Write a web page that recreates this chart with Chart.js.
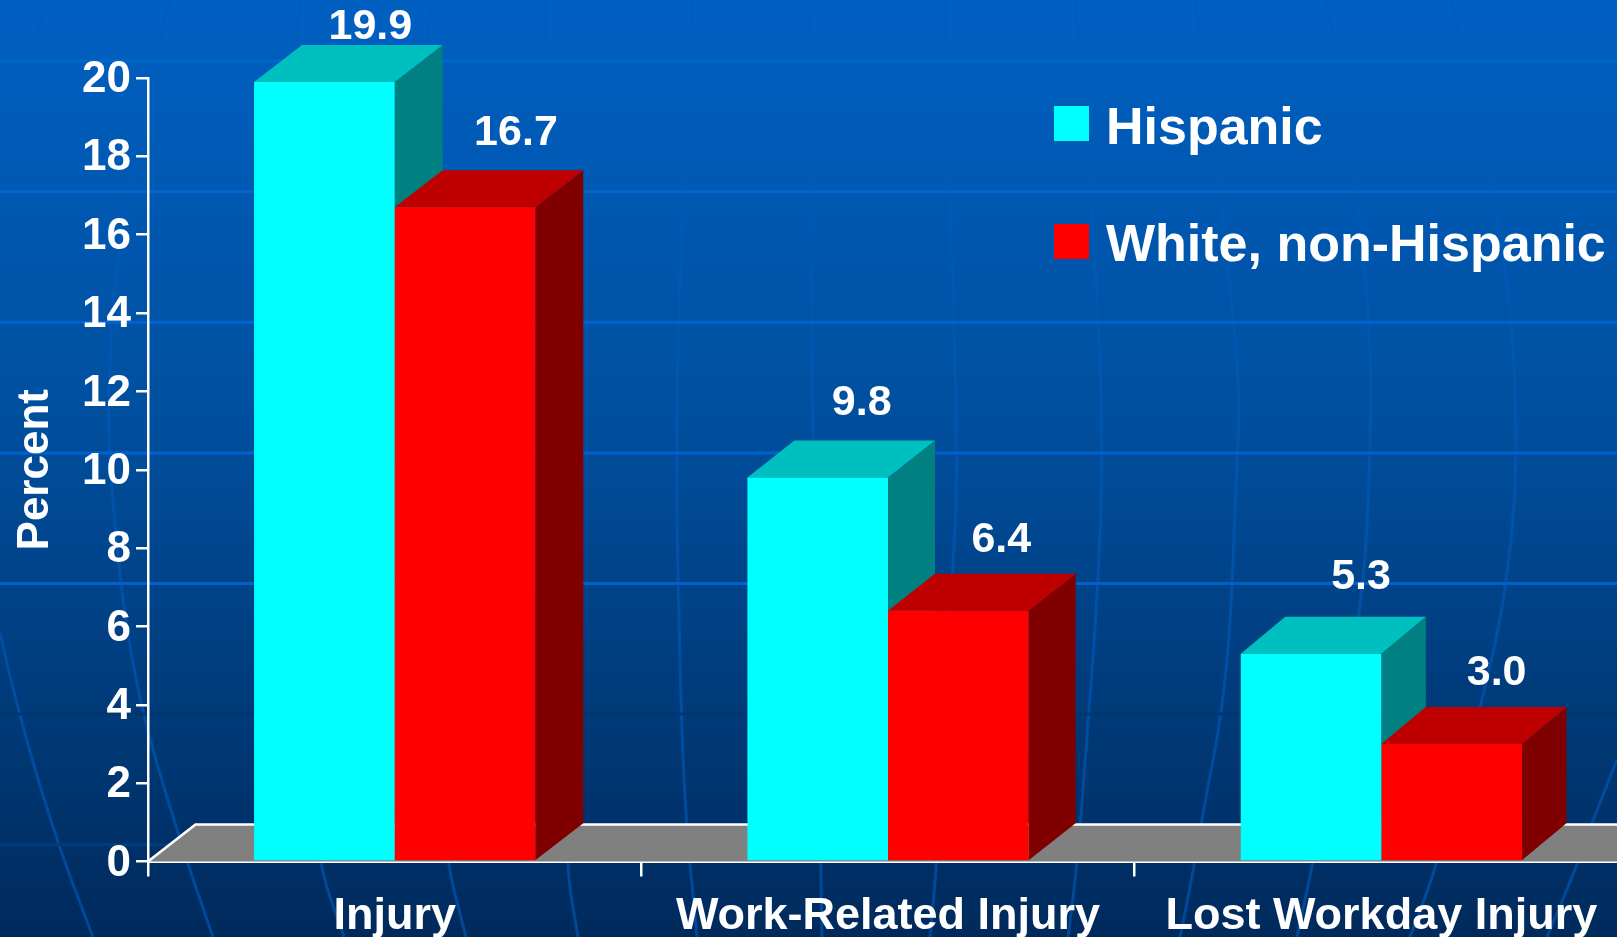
<!DOCTYPE html>
<html>
<head>
<meta charset="utf-8">
<title>Injury rates</title>
<script src="https://cdn.jsdelivr.net/npm/chart.js@4"></script>
<style>
  html, body { margin: 0; padding: 0; width: 1617px; height: 937px; overflow: hidden; background: #003a78; }
  canvas { display: block; }
</style>
</head>
<body>
<canvas id="myChart" width="1628" height="937"></canvas>
<script>
var categories = ['Injury', 'Work-Related Injury', 'Lost Workday Injury'];
var hispanic = [19.9, 9.8, 5.3];
var white = [16.7, 6.4, 3.0];
var seriesNames = ['Hispanic', 'White, non-Hispanic'];

// Colours of the three visible faces of each bar: front, top, side
var hispanicFaces = ['#00ffff', '#00bfbf', '#008080'];
var whiteFaces = ['#ff0000', '#bf0000', '#800000'];

// The 3D look: how far each group recedes, and where its value labels sit
var depthX = [48, 47, 44.5];
var depthY = 37;
var labelShiftX = [[46, 44, 50], [51, 43, 45]];
var labelGapY = [[5.5, 26, 27.5], [25.5, 21.5, 21.5]];

var FONT = '"Liberation Sans", Arial, sans-serif';

// Backdrop of the slide: a globe grid
var gridRows = [
  [61, '#0068cc'], [191.7, '#0066cc'], [322.3, '#0064cc'], [453, '#0062cc'],
  [583.5, '#0060cc'], [714, '#00376f'], [844.7, '#003e7c']
];
var meridians = [
  [[43, 13], [0, 166]],
  [[0, 633], [18, 713], [58, 845], [93, 937]],
  [[170, 0], [152, 70], [115, 260], [108, 400], [110, 468], [120, 581], [133, 667], [150, 742], [187, 862], [213, 937]],
  [[300, 0], [285, 200], [280, 400], [290, 650], [317, 860], [344, 937]],
  [[430, 0], [422, 200], [420, 450], [430, 700], [446, 860], [466, 937]],
  [[545, 0], [548, 170], [555, 500], [565, 860], [578, 937]],
  [[692, 0], [683, 190], [675, 440], [681, 713], [686, 823], [697, 937]],
  [[808, 0], [810, 190], [813, 460], [818, 700], [822, 937]],
  [[945, 0], [950, 190], [958, 460], [953, 573], [937, 863], [930, 937]],
  [[1075, 0], [1081, 60], [1098, 300], [1103, 453], [1098, 587], [1089, 713], [1077, 867], [1068, 937]],
  [[1195, 0], [1205, 60], [1232, 300], [1240, 400], [1236, 483], [1231, 617], [1222, 713], [1204, 807], [1193, 873], [1180, 937]],
  [[1325, 0], [1340, 60], [1370, 300], [1371, 453], [1362, 617], [1313, 863], [1297, 937]],
  [[1450, 0], [1470, 60], [1512, 300], [1517, 453], [1512, 540], [1496, 650], [1438, 863], [1410, 937]],
  [[1617, 760], [1590, 827], [1578, 863], [1547, 937]]
];

function drawCurve(ctx, points) {
  ctx.beginPath();
  ctx.moveTo(points[0][0], points[0][1]);
  for (var i = 1; i < points.length - 1; i++) {
    var midX = (points[i][0] + points[i + 1][0]) / 2;
    var midY = (points[i][1] + points[i + 1][1]) / 2;
    ctx.quadraticCurveTo(points[i][0], points[i][1], midX, midY);
  }
  var last = points[points.length - 1];
  ctx.lineTo(last[0], last[1]);
  ctx.stroke();
}

function face(ctx, color, points) {
  ctx.fillStyle = color;
  ctx.beginPath();
  ctx.moveTo(points[0][0], points[0][1]);
  for (var i = 1; i < points.length; i++) {
    ctx.lineTo(points[i][0], points[i][1]);
  }
  ctx.closePath();
  ctx.fill();
}

var backdrop = {
  id: 'backdrop',
  beforeDraw: function(chart) {
    var ctx = chart.ctx;
    var h = chart.height;
    ctx.save();

    var bg = ctx.createLinearGradient(0, 0, 0, h);
    bg.addColorStop(0, '#0060c2');
    bg.addColorStop(0.45, '#004f9e');
    bg.addColorStop(1, '#002a5c');
    ctx.fillStyle = bg;
    ctx.fillRect(0, 0, chart.width, h);

    var stroke = ctx.createLinearGradient(0, 0, 0, h);
    stroke.addColorStop(0, '#005dbf');
    stroke.addColorStop(0.5, '#0054ad');
    stroke.addColorStop(1, '#004796');
    ctx.strokeStyle = stroke;
    ctx.lineWidth = 3;
    meridians.forEach(function(points) {
      drawCurve(ctx, points);
    });

    gridRows.forEach(function(row) {
      ctx.fillStyle = row[1];
      ctx.fillRect(0, row[0] - 1.5, chart.width, 3);
    });
    ctx.restore();
  }
};

var bars3d = {
  id: 'bars3d',
  beforeDatasetsDraw: function(chart) {
    var ctx = chart.ctx;
    var area = chart.chartArea;
    var base = chart.scales.y.getPixelForValue(0);

    // The floor the bars stand on
    ctx.save();
    face(ctx, '#808080', [[area.left, base], [area.left + 47.5, base - depthY],
      [area.right, base - depthY], [area.right, base]]);
    ctx.strokeStyle = '#ffffff';
    ctx.lineWidth = 2.6;
    ctx.beginPath();
    ctx.moveTo(area.left, base);
    ctx.lineTo(area.left + 47.5, base - depthY);
    ctx.lineTo(area.right, base - depthY);
    ctx.stroke();

    chart.data.datasets.forEach(function(dataset, d) {
      chart.getDatasetMeta(d).data.forEach(function(bar, i) {
        var left = bar.x - bar.width / 2;
        var right = bar.x + bar.width / 2;
        var dx = depthX[i];
        face(ctx, dataset.faces[2], [[right, bar.y], [right + dx, bar.y - depthY],
          [right + dx, bar.base - depthY], [right, bar.base]]);
        face(ctx, dataset.faces[1], [[left, bar.y], [left + dx, bar.y - depthY],
          [right + dx, bar.y - depthY], [right, bar.y]]);
      });
    });
    ctx.restore();
  },
  afterDatasetsDraw: function(chart) {
    var ctx = chart.ctx;
    ctx.save();
    ctx.fillStyle = '#ffffff';
    ctx.font = 'bold 43px ' + FONT;
    ctx.textAlign = 'center';
    ctx.textBaseline = 'alphabetic';
    chart.data.datasets.forEach(function(dataset, d) {
      chart.getDatasetMeta(d).data.forEach(function(bar, i) {
        ctx.fillText(dataset.data[i].toFixed(1), bar.x + labelShiftX[d][i], bar.y - depthY - labelGapY[d][i]);
      });
    });

    // Legend
    var legendTop = [106, 224];
    var legendBaseline = [143.5, 261];
    ctx.font = 'bold 52px ' + FONT;
    ctx.textAlign = 'left';
    chart.data.datasets.forEach(function(dataset, d) {
      ctx.fillStyle = dataset.faces[0];
      ctx.fillRect(1054, legendTop[d], 35, 35);
      ctx.fillStyle = '#ffffff';
      ctx.fillText(dataset.label, 1106, legendBaseline[d]);
    });
    ctx.restore();
  }
};

var chart = new Chart(document.getElementById('myChart'), {
  type: 'bar',
  data: {
    labels: categories,
    datasets: [
      { label: seriesNames[0], data: hispanic, backgroundColor: hispanicFaces[0], faces: hispanicFaces },
      { label: seriesNames[1], data: white, backgroundColor: whiteFaces[0], faces: whiteFaces }
    ]
  },
  plugins: [backdrop, bars3d],
  options: {
    responsive: false,
    animation: false,
    events: [],  // Disable hover
    categoryPercentage: 0.57,
    barPercentage: 1,
    layout: {
      padding: { left: 0, right: 0, top: 78, bottom: 0 }
    },
    plugins: {
      legend: { display: false },
      tooltip: { enabled: false }
    },
    scales: {
      x: {
        afterFit: function(scale) { scale.height = 75.5; },
        border: { color: '#ffffff', width: 3 },
        grid: { drawOnChartArea: false, color: '#ffffff', lineWidth: 2.5, tickLength: 15 },
        ticks: {
          color: '#ffffff',
          padding: 13,
          autoSkip: false,
          maxRotation: 0,
          font: { family: FONT, size: 45, weight: 'bold' }
        }
      },
      y: {
        min: 0,
        max: 20,
        afterFit: function(scale) { scale.width = 148; },
        border: { color: '#ffffff', width: 2.5 },
        grid: { drawOnChartArea: false, color: '#ffffff', lineWidth: 2.5, tickLength: 12 },
        title: {
          display: true,
          text: 'Percent',
          color: '#ffffff',
          padding: { top: 9, bottom: 0 },
          font: { family: FONT, size: 44, weight: 'bold' }
        },
        ticks: {
          color: '#ffffff',
          stepSize: 2,
          padding: 5,
          labelOffset: 2,
          font: { family: FONT, size: 44, weight: 'bold' }
        }
      }
    }
  }
});
</script>
</body>
</html>
